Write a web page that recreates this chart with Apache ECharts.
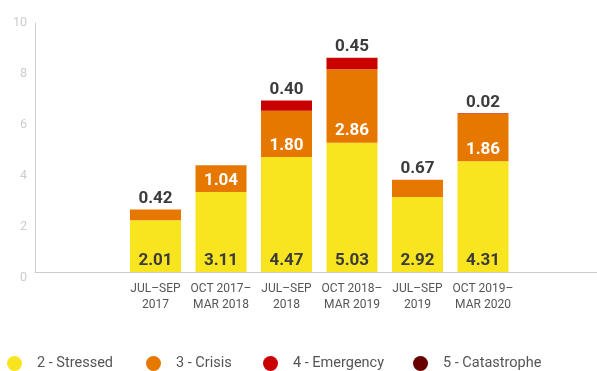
<!DOCTYPE html>
<html>
<head>
<meta charset="utf-8">
<style>
  html, body { margin: 0; padding: 0; background: #ffffff; }
  #chart { width: 597px; height: 371px; }
</style>
<script src="https://cdn.jsdelivr.net/npm/echarts@6/dist/echarts.min.js"></script>
</head>
<body>
<div id="chart"></div>
<script>
// Periods (blank slots keep space at both ends of the axis)
const categories = ['', 'JUL–SEP\n2017', 'OCT 2017–\nMAR 2018', 'JUL–SEP\n2018', 'OCT 2018–\nMAR 2019', 'JUL–SEP\n2019', 'OCT 2019–\nMAR 2020', ''];

// Population by IPC phase (millions)
const stressed    = [null, 2.01, 3.11, 4.47, 5.03, 2.92, 4.31, null];
const crisis      = [null, 0.42, 1.04, 1.80, 2.86, 0.67, 1.86, null];
const emergency   = [null, null, null, 0.40, 0.45, null, 0.02, null];
const catastrophe = [null, null, null, null, null, null, null, null];

const seriesNames = ['2 - Stressed', '3 - Crisis', '4 - Emergency', '5 - Catastrophe'];
const colors = ['#F8E41F', '#E67800', '#CA0000', '#680000'];
const yTicks = [0, 2, 4, 6, 8, 10];

const FONT = 'Roboto, "Liberation Sans", sans-serif';
const DARK = '#3b3b3b';

const fmt = p => p.value == null ? '' : Number(p.value).toFixed(2);

const topLabel = { show: true, position: 'top', distance: 2, color: DARK,
  fontFamily: FONT, fontWeight: 'bold', fontSize: 17, formatter: fmt };
const innerLabel = { show: true, position: 'insideBottom', distance: 3, color: '#ffffff',
  fontFamily: FONT, fontWeight: 'bold', fontSize: 17, formatter: fmt };

// Segments too thin to hold their value get it printed above the bar
const crisisData = crisis.map(v => ({
  value: v,
  label: v != null && v < 0.8 ? topLabel : innerLabel
}));

const barWidth = 51;

const option = {
  animation: false,
  grid: [
    { left: 57.25, width: 524, top: 15, bottom: 99 },   // bars
    { left: 35, right: 0, top: 23, bottom: 99 },        // axis frame
    { left: 35, right: 0, top: 22.7, bottom: 93 }       // value ticks
  ],
  xAxis: [
    { type: 'category', gridIndex: 0, data: categories,
      axisLine: { show: false }, axisTick: { show: false },
      axisLabel: { color: '#555555', fontFamily: FONT, fontSize: 12, lineHeight: 16,
        margin: 9, interval: 0 } },
    { type: 'value', gridIndex: 1, min: 0, max: 1, show: true,
      axisLine: { show: true, lineStyle: { color: '#cccccc', width: 1 } },
      axisTick: { show: false }, axisLabel: { show: false }, splitLine: { show: false } },
    { type: 'value', gridIndex: 2, min: 0, max: 1, show: false }
  ],
  yAxis: [
    { type: 'value', gridIndex: 0, min: 0, max: 10, show: false },
    { type: 'value', gridIndex: 1, min: 0, max: 1,
      axisLine: { show: true, lineStyle: { color: '#cccccc', width: 1 } },
      axisTick: { show: false }, axisLabel: { show: false }, splitLine: { show: false } },
    { type: 'value', gridIndex: 2, min: yTicks[0], max: yTicks[yTicks.length - 1], interval: 2,
      axisLine: { show: false }, axisTick: { show: false }, splitLine: { show: false },
      axisLabel: { color: '#cccccc', fontFamily: FONT, fontSize: 12.5, margin: 8 } }
  ],
  legend: seriesNames.map((name, i) => ({
    data: [name],
    left: [7, 146, 263, 413][i],
    top: 356,
    padding: 0,
    icon: 'circle',
    itemWidth: 15, itemHeight: 15, itemGap: 0,
    textStyle: { color: '#555555', fontFamily: FONT, fontSize: 14.5, padding: [0, 0, 0, 10] },
    selectedMode: false
  })),
  series: [
    { name: seriesNames[0], type: 'bar', stack: 'ipc', barWidth, data: stressed,
      itemStyle: { color: colors[0] },
      label: Object.assign({}, innerLabel, { color: DARK }) },
    { name: seriesNames[1], type: 'bar', stack: 'ipc', barWidth, data: crisisData,
      itemStyle: { color: colors[1] } },
    { name: seriesNames[2], type: 'bar', stack: 'ipc', barWidth, data: emergency,
      itemStyle: { color: colors[2] }, label: topLabel },
    { name: seriesNames[3], type: 'bar', stack: 'ipc', barWidth, data: catastrophe,
      itemStyle: { color: colors[3] }, label: topLabel }
  ]
};

const chart = echarts.init(document.getElementById('chart'), null, { renderer: 'canvas' });
chart.setOption(option);
</script>
</body>
</html>
